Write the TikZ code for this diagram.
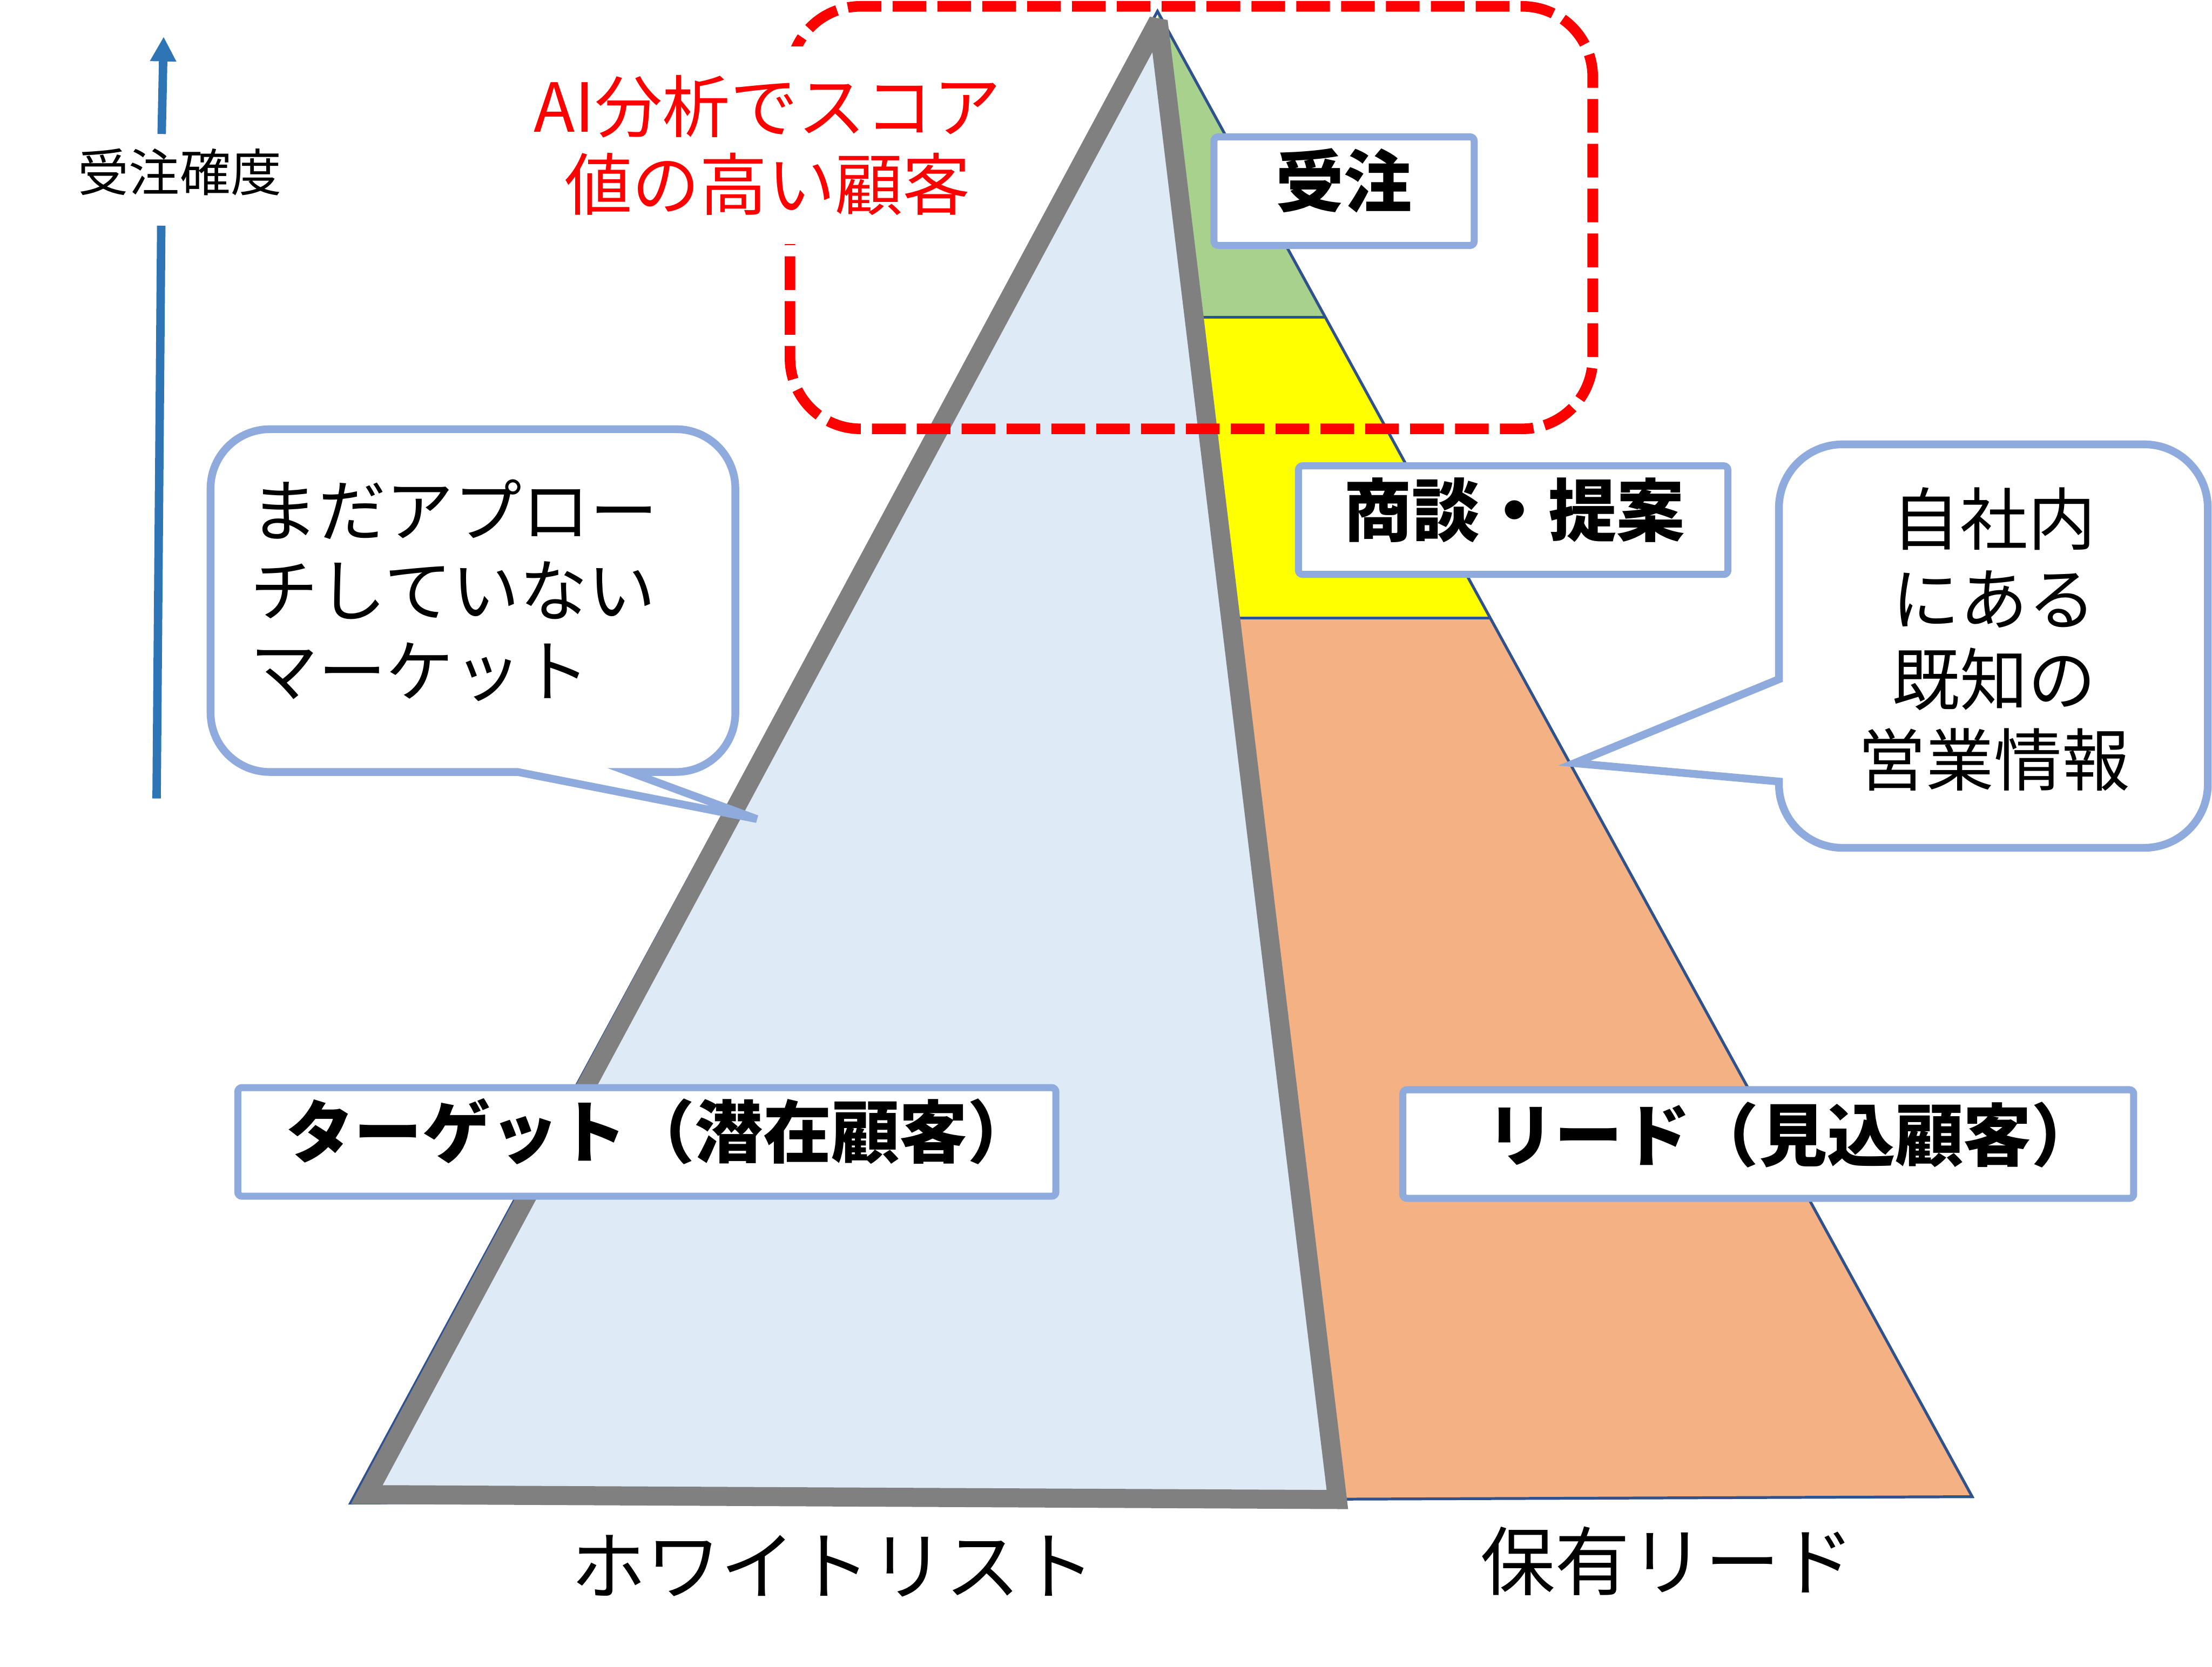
\documentclass[tikz,border=0pt]{standalone}
\usepackage{fontspec}
\setmainfont{Noto Sans CJK JP}
\usetikzlibrary{arrows.meta}
\definecolor{lblue}{HTML}{DEEBF7}
\definecolor{pgray}{HTML}{808080}
\definecolor{pgreen}{HTML}{A9D18E}
\definecolor{pyellow}{HTML}{FFFF00}
\definecolor{porange}{HTML}{F4B183}
\definecolor{edgeblue}{HTML}{2F528F}
\definecolor{boxblue}{HTML}{8FAADC}
\definecolor{arrblue}{HTML}{2E75B6}
\definecolor{pred}{HTML}{FF0000}
\begin{document}
\begin{tikzpicture}[x=0.02cm,y=-0.02cm,
  labelbox/.style={draw=boxblue, line width=0.1cm, fill=white, rounded corners=0.06cm, inner sep=0pt, minimum height=1.54cm},
  boldtext/.style={font=\fontsize{27.5pt}{32pt}\selectfont\bfseries, inner sep=0pt},
  bubbletext/.style={font=\fontsize{27.4pt}{32.4pt}\selectfont, inner sep=0pt},
  bubble/.style={draw=boxblue, line width=0.11cm, fill=white, line join=miter},
  pyredge/.style={draw=edgeblue, line width=0.04cm},
  axislabel/.style={font=\fontsize{30.2pt}{36pt}\selectfont, inner sep=0pt},
]
\path[fill=white, use as bounding box] (0,0) rectangle (1568,1181.6);

% pyramid geometry
\coordinate (O) at (820.5,8);
\coordinate (BLo) at (248.5,1065.5);
\coordinate (BRo) at (1398,1061);
\coordinate (G) at (821,15);
\coordinate (GBL) at (260,1059.5);
\coordinate (GBR) at (948,1063);
\coordinate (R1) at (939.5,225);
\coordinate (R2) at (1056.3,438);
\coordinate (L1) at (846.5,225);
\coordinate (L2) at (872.4,438);

\fill[pgreen] (O) -- (R1) -- (L1) -- (G) -- cycle;
\fill[pyellow] (L1) -- (R1) -- (R2) -- (L2) -- cycle;
\fill[porange] (L2) -- (R2) -- (BRo) -- (GBR) -- cycle;
\draw[pyredge] (O) -- (BRo) -- (BLo) -- cycle;
\draw[pyredge] (L1) -- (R1);
\draw[pyredge] (L2) -- (R2);
\filldraw[fill=lblue, draw=pgray, line width=0.27cm, line join=miter, miter limit=2] (G) -- (GBL) -- (GBR) -- cycle;

% red dashed frame
\draw[pred, line width=0.15cm, dash pattern=on 0.477cm off 0.159cm, rounded corners=1.0cm] (560,4.5) rectangle (1129,304);
\node[font=\fontsize{27.3pt}{31.3pt}\selectfont, text=pred, align=center, inner sep=0pt, fill=white, minimum width=6.9cm, minimum height=2.8cm] (ai) at (544,103) {AI分析でスコア\\値の高い顧客};

% label boxes
\node[labelbox, minimum width=3.69cm] (juchuBox) at (952.75,135.5) {};
\node[boldtext] (juchu) at (952.7,128) {受注};
\node[labelbox, minimum width=6.09cm] (shodanBox) at (1072.6,368.7) {};
\node[boldtext] (shodan) at (1073.5,361.6) {商談・提案};
\node[labelbox, minimum width=11.6cm] (targetBox) at (458.5,809.5) {};
\node[boldtext] (target) at (468.5,802) {ターゲット（潜在顧客）};
\node[labelbox, minimum width=10.364cm] (leadBox) at (1253.4,811) {};
\node[boldtext] (lead) at (1271,804.5) {リード（見込顧客）};

% left speech bubble
\draw[bubble] (191.25,304.25) -- (479.25,304.25) arc[start angle=90, end angle=0, radius=0.84cm]
  -- (521.25,505.25) arc[start angle=0, end angle=-90, radius=0.84cm]
  -- (446,547.25) -- (536.5,580.6) -- (367,547.25)
  -- (191.25,547.25) arc[start angle=-90, end angle=-180, radius=0.84cm]
  -- (149.25,346.25) arc[start angle=180, end angle=90, radius=0.84cm] -- cycle;
\node[bubbletext, align=left, anchor=west] (mada) at (177,418.5) {まだアプロー\\チしていない\\マーケット};

% right speech bubble
\draw[bubble] (1306,315) -- (1520,315) arc[start angle=90, end angle=0, radius=0.9cm]
  -- (1565,556) arc[start angle=0, end angle=-90, radius=0.9cm]
  -- (1306,601) arc[start angle=-90, end angle=-180, radius=0.9cm]
  -- (1261,554) -- (1116,541) -- (1261,481.5)
  -- (1261,360) arc[start angle=180, end angle=90, radius=0.9cm] -- cycle;
\node[bubbletext, align=center] (jisha) at (1413.5,453) {自社内\\にある\\既知の\\営業情報};

% bottom labels
\node[axislabel] (white) at (590.5,1110) {ホワイトリスト};
\node[axislabel] (hoyu) at (1182,1106.6) {保有リード};

% vertical arrow
\coordinate (a1) at (111,566);
\coordinate (a2) at (114.3,160);
\coordinate (a3) at (114.6,95);
\coordinate (a4) at (116,26);
\draw[arrblue, line width=0.12cm] (a1) -- (a2);
\draw[arrblue, line width=0.12cm, -{Triangle[width=0.35cm,length=0.35cm]}] (a3) -- (a4);
\node[font=\fontsize{20.5pt}{24pt}\selectfont, inner sep=0pt] (kakudo) at (127.5,122) {受注確度};
\end{tikzpicture}
\end{document}
